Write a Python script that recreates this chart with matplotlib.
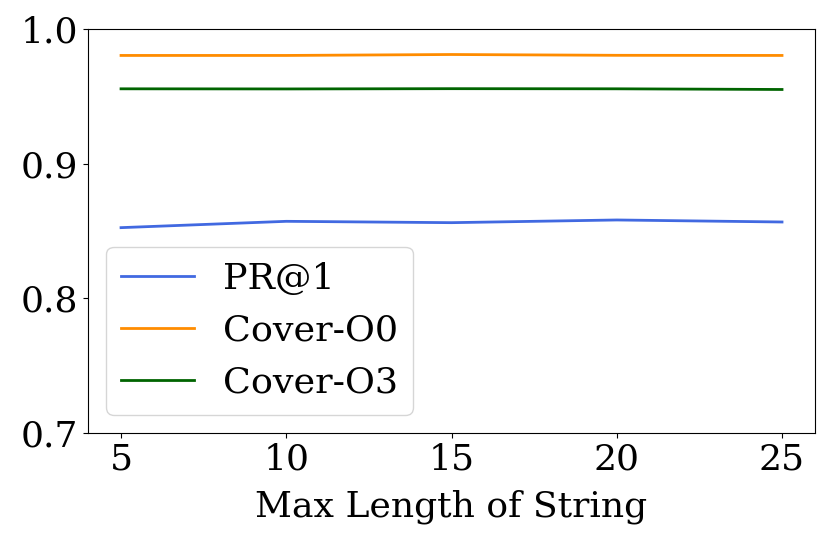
import matplotlib

matplotlib.use("Agg")
import matplotlib.pyplot as plt

max_len = [5, 10, 15, 20, 25]
pr_at_1 = [0.8525, 0.8572, 0.8562, 0.8582, 0.8567]
cover_o0 = [0.9805, 0.9805, 0.9812, 0.9806, 0.9805]
cover_o3 = [0.9557, 0.9556, 0.9558, 0.9557, 0.9552]

plt.rcParams["font.family"] = "DejaVu Serif"
plt.rcParams["font.size"] = 26

fig, ax = plt.subplots(figsize=(8.3, 5.41), dpi=100)
fig.subplots_adjust(left=0.106, right=0.982, top=0.946, bottom=0.2)

ax.plot(max_len, pr_at_1, color="royalblue", linewidth=2, label="PR@1")
ax.plot(max_len, cover_o0, color="darkorange", linewidth=2, label="Cover-O0")
ax.plot(max_len, cover_o3, color="darkgreen", linewidth=2, label="Cover-O3")

ax.set_ylim(0.7, 1.0)
ax.set_yticks([0.7, 0.8, 0.9, 1.0])
ax.set_xticks(max_len)
ax.set_xlabel("Max Length of String", labelpad=9)
ax.legend(loc="lower left", fontsize=26.25)

fig.savefig("out.png", dpi=100)
plt.close(fig)
